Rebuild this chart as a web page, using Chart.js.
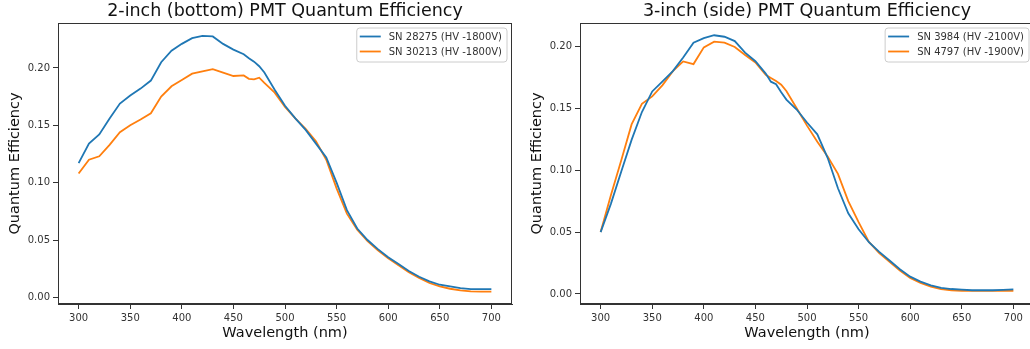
<!DOCTYPE html>
<html>
<head>
<meta charset="utf-8">
<script src="https://cdn.jsdelivr.net/npm/chart.js@4.4.1/dist/chart.umd.min.js"></script>
<style>
  html, body { margin: 0; padding: 0; background: #ffffff; width: 1030px; height: 349px; overflow: hidden; position: relative; }
  canvas { position: absolute; top: 0; }
  #left { left: 0px; }
  #right { left: 522px; }
</style>
</head>
<body>
<canvas id="left" width="530" height="349"></canvas>
<canvas id="right" width="530" height="349"></canvas>
<script>
// ---------- data ----------
const wavelengths = [300,310,320,330,340,350,360,370,380,390,400,410,420,430,440,450,460,465,470,475,480,490,500,510,520,530,540,550,560,570,580,590,600,610,620,630,640,650,660,670,680,690,700];

const leftTitle = "2-inch (bottom) PMT Quantum Efficiency";
const leftLabelA = "SN 28275 (HV -1800V)";
const leftLabelB = "SN 30213 (HV -1800V)";
const leftSeriesA = [0.117,0.134,0.142,0.156,0.169,0.176,0.182,0.189,0.205,0.215,0.221,0.226,0.228,0.2275,0.221,0.216,0.212,0.2085,0.2055,0.2015,0.196,0.181,0.167,0.156,0.146,0.134,0.122,0.100,0.076,0.060,0.050,0.042,0.035,0.029,0.023,0.018,0.014,0.011,0.0095,0.008,0.0072,0.0072,0.0072];
const leftSeriesB = [0.108,0.120,0.123,0.133,0.144,0.150,0.155,0.1605,0.175,0.184,0.1895,0.195,0.197,0.199,0.196,0.193,0.1935,0.1905,0.190,0.1915,0.187,0.1785,0.166,0.156,0.147,0.136,0.120,0.095,0.073,0.059,0.049,0.041,0.034,0.028,0.022,0.017,0.0125,0.0095,0.0075,0.006,0.0052,0.005,0.005];

const rightTitle = "3-inch (side) PMT Quantum Efficiency";
const rightLabelA = "SN 3984 (HV -2100V)";
const rightLabelB = "SN 4797 (HV -1900V)";
const rightSeriesA = [0.050,0.073,0.099,0.1245,0.147,0.1636,0.1717,0.180,0.191,0.203,0.2067,0.209,0.2078,0.2043,0.195,0.188,0.178,0.1715,0.1695,0.163,0.157,0.149,0.1385,0.129,0.110,0.0854,0.0652,0.0523,0.0418,0.034,0.027,0.020,0.014,0.010,0.007,0.005,0.004,0.0035,0.003,0.003,0.003,0.0033,0.0037];
const rightSeriesB = [0.050,0.080,0.108,0.137,0.1536,0.1596,0.1687,0.180,0.1879,0.1857,0.1992,0.2038,0.203,0.1995,0.193,0.187,0.177,0.1745,0.172,0.169,0.164,0.150,0.136,0.123,0.111,0.097,0.075,0.058,0.042,0.033,0.026,0.019,0.013,0.009,0.006,0.004,0.003,0.0025,0.0025,0.0025,0.0025,0.0025,0.0025];

const xTicks = [300,350,400,450,500,550,600,650,700];
const yTicks = [0.00,0.05,0.10,0.15,0.20];
const xLabel = "Wavelength (nm)";
const yLabel = "Quantum Efficiency";

// ---------- styling ----------
const BLUE = "#1f77b4";
const ORANGE = "#ff7f0e";
const FONT = "DejaVu Sans";
Chart.defaults.font.family = FONT;

const framePlugin = {
  id: 'frame',
  afterDatasetsDraw(chart) {
    const {ctx, chartArea: a} = chart;
    ctx.save();
    ctx.strokeStyle = '#333';
    ctx.lineWidth = 1;
    ctx.strokeRect(Math.round(a.left) + 0.5, Math.round(a.top) + 0.5, Math.round(a.right - a.left) - 1, Math.round(a.bottom - a.top) - 1);
    ctx.restore();
  }
};

const legendPlugin = {
  id: 'innerLegend',
  afterDraw(chart) {
    const {ctx, chartArea: a} = chart;
    const ds = chart.data.datasets;
    ctx.save();
    ctx.font = '10px "' + FONT + '"';
    let tw = 0;
    ds.forEach(d => { tw = Math.max(tw, ctx.measureText(d.label).width); });
    const padL = 3, handle = 21, gap = 8, padR = 5, rowH = 15, padT = 8.5;
    const w = padL + handle + gap + tw + padR;
    const h = 34;
    const x = a.right - 5 - w;
    const y = a.top + 5;
    ctx.beginPath();
    const r = 3;
    ctx.moveTo(x + r, y);
    ctx.lineTo(x + w - r, y); ctx.quadraticCurveTo(x + w, y, x + w, y + r);
    ctx.lineTo(x + w, y + h - r); ctx.quadraticCurveTo(x + w, y + h, x + w - r, y + h);
    ctx.lineTo(x + r, y + h); ctx.quadraticCurveTo(x, y + h, x, y + h - r);
    ctx.lineTo(x, y + r); ctx.quadraticCurveTo(x, y, x + r, y);
    ctx.closePath();
    ctx.fillStyle = 'rgba(255,255,255,0.8)';
    ctx.fill();
    ctx.strokeStyle = '#cccccc';
    ctx.lineWidth = 1;
    ctx.stroke();
    ds.forEach((d, i) => {
      const cy = y + padT + i * rowH;
      ctx.strokeStyle = d.borderColor;
      ctx.lineWidth = 1.8;
      ctx.beginPath();
      ctx.moveTo(x + padL, cy);
      ctx.lineTo(x + padL + handle, cy);
      ctx.stroke();
      ctx.fillStyle = '#333';
      ctx.textBaseline = 'middle';
      ctx.textAlign = 'left';
      ctx.fillText(d.label, x + padL + handle + gap, cy + 0.5);
    });
    ctx.restore();
  }
};

function makeChart(id, title, labA, labB, serA, serB, yMin, yMax) {
  const toPts = s => wavelengths.map((w, i) => ({x: w, y: s[i]}));
  return new Chart(document.getElementById(id), {
    type: 'line',
    data: {
      datasets: [
        {label: labA, data: toPts(serA), borderColor: BLUE, backgroundColor: BLUE, borderWidth: 1.8, pointRadius: 0, tension: 0, fill: false},
        {label: labB, data: toPts(serB), borderColor: ORANGE, backgroundColor: ORANGE, borderWidth: 1.8, pointRadius: 0, tension: 0, fill: false}
      ]
    },
    options: {
      responsive: false,
      animation: false,
      devicePixelRatio: 1,
      layout: {padding: {left: 0, right: 18, top: 0, bottom: 0}},
      plugins: {
        legend: {display: false},
        tooltip: {enabled: false},
        title: {
          display: true, text: title, fullSize: false,
          font: {family: FONT, size: 17.5, weight: 'normal'},
          color: '#111', padding: {top: 1, bottom: 1}
        }
      },
      scales: {
        x: {
          type: 'linear', min: 280, max: 720,
          afterBuildTicks: s => { s.ticks = xTicks.map(v => ({value: v})); },
          afterFit: s => { s.height = 45; },
          ticks: {font: {size: 10}, color: '#333', padding: 3, maxRotation: 0, callback: v => String(v)},
          grid: {display: true, drawOnChartArea: false, drawTicks: true, tickLength: 5, tickColor: '#333'},
          border: {display: true, color: '#333', width: 1},
          title: {display: true, text: xLabel, font: {size: 14.5}, color: '#111', padding: {top: 0, bottom: 7}}
        },
        y: {
          type: 'linear', min: yMin, max: yMax,
          afterBuildTicks: s => { s.ticks = yTicks.map(v => ({value: v})); },
          afterFit: s => { s.width = 58; },
          ticks: {font: {size: 10}, color: '#333', padding: 3, callback: v => Number(v).toFixed(2)},
          grid: {display: true, drawOnChartArea: false, drawTicks: true, tickLength: 5, tickColor: '#333'},
          border: {display: true, color: '#333', width: 1},
          title: {display: true, text: yLabel, font: {size: 14.5}, color: '#111', padding: {top: 7, bottom: 0}}
        }
      }
    },
    plugins: [framePlugin, legendPlugin]
  });
}

makeChart('left', leftTitle, leftLabelA, leftLabelB, leftSeriesA, leftSeriesB, -0.0058, 0.2392);
makeChart('right', rightTitle, rightLabelA, rightLabelB, rightSeriesA, rightSeriesB, -0.0081, 0.2189);
</script>
</body>
</html>
